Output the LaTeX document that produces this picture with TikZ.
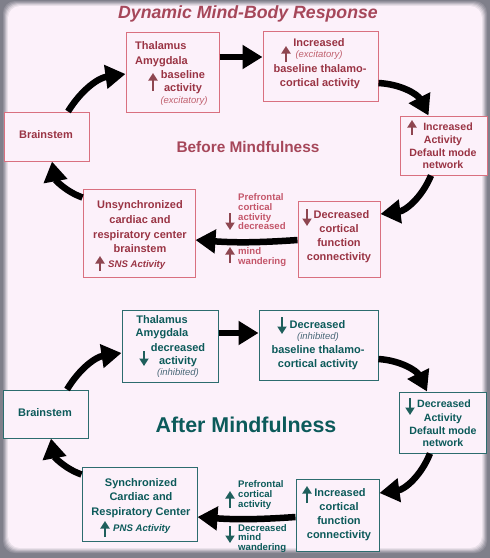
\documentclass[tikz,border=0pt]{standalone}
\usepackage{fontspec}
\setmainfont{Liberation Sans}
\usetikzlibrary{arrows.meta}

\definecolor{frame}{HTML}{7F7F8A}
\definecolor{bgin}{HTML}{FCF1FA}
\definecolor{redtxt}{HTML}{9A3444}
\definecolor{redbox}{HTML}{D9707F}
\definecolor{redlbl}{HTML}{C4566A}
\definecolor{redicon}{HTML}{8E4650}
\definecolor{redital}{HTML}{C0606E}
\definecolor{redtitle}{HTML}{A6475A}
\definecolor{tealtxt}{HTML}{0C5A5A}
\definecolor{tealbox}{HTML}{2C6C6E}
\definecolor{tealicon}{HTML}{1F5F5C}
\definecolor{tealital}{HTML}{4A6878}

\begin{document}
\begin{tikzpicture}[
     x = 1pt, y = -1pt,
     box/.style = {draw = #1, line width = 1pt, fill = bgin, inner sep = 0pt},
     txt/.style = {inner sep = 0pt, align = center, font = \fontsize{11}{14.5}\selectfont\bfseries},
     lbl/.style = {inner sep = 0pt, align = left, font = \fontsize{9.6}{9.7}\selectfont\bfseries},
     ital/.style = {inner sep = 0pt, font = \fontsize{9.5}{11}\selectfont\itshape},
     sital/.style = {inner sep = 0pt, font = \fontsize{9.6}{11}\selectfont\bfseries\itshape},
     flow/.style = {line width = 6.5pt, -{Triangle[length = 20pt, width = 23pt]}},
     icon/.style = {draw = #1, line width = 2.8pt, -{Triangle[length = 7.5pt, width = 9pt]}}
    ]
    \useasboundingbox (0,0) rectangle (490,558);

    % frame with soft edge
    \fill[frame] (0,0) rectangle (490,558);
    \foreach \k/\p in {0/15, 1/30, 2/50, 3/70, 4/85, 5/100}
      \fill[bgin!\p!frame, rounded corners = 12pt] (3+\k,1+\k) rectangle (487-\k,553-\k);

    \node[inner sep = 0pt, redtitle, font = \fontsize{17.7}{20}\selectfont\bfseries\itshape]
      (title) at (248,14) {Dynamic Mind-Body Response};

    % ---- before mindfulness ----
    \node[box = redbox, minimum width = 93pt, minimum height = 80pt] (thal) at (172.5,72) {};
    \node[box = redbox, minimum width = 115pt, minimum height = 70pt] (base) at (320.5,66) {};
    \node[box = redbox, minimum width = 87pt, minimum height = 59pt] (dmn) at (443.5,145.5) {};
    \node[box = redbox, minimum width = 85pt, minimum height = 49pt] (stem) at (46.5,136.5) {};
    \node[box = redbox, minimum width = 112pt, minimum height = 88pt] (unsync) at (139,233) {};
    \node[box = redbox, minimum width = 82pt, minimum height = 76pt] (cort) at (339,239) {};

    \node[txt, redtxt, align = left, anchor = west, font = \fontsize{11}{15}\selectfont\bfseries]
      (thal-t) at (135,54.5) {Thalamus\\Amygdala};
    \node[txt, redtxt, font = \fontsize{11}{13}\selectfont\bfseries] (thal-b) at (183,82.5) {baseline\\activity};
    \node[ital, redital] (thal-e) at (184,101) {(excitatory)};
    \draw[icon = redicon] (153,91) -- (153,73);

    \node[txt, redtxt] (base-i) at (319,43) {Increased};
    \node[ital, redital] (base-e) at (319,55.5) {(excitatory)};
    \node[txt, redtxt, font = \fontsize{11}{14}\selectfont\bfseries] (base-t) at (320,77) {baseline thalamo-\\cortical activity};
    \draw[icon = redicon] (286,62) -- (286,46);

    \node[txt, redtxt, font = \fontsize{10.6}{12.3}\selectfont\bfseries] (dmn-i) at (448,127) {Increased};
    \node[txt, redtxt, font = \fontsize{10.6}{12.3}\selectfont\bfseries] (dmn-t) at (443,152.5) {Activity\\Default mode\\network};
    \draw[icon = redicon] (412,135) -- (412,120);

    \node[txt, redtxt] (stem-t) at (46,135) {Brainstem};

    \node[inner sep = 0pt, redtitle, font = \fontsize{15.4}{18}\selectfont\bfseries] (before) at (248,147) {Before Mindfulness};

    \node[txt, redtxt, font = \fontsize{11}{14.7}\selectfont\bfseries] (unsync-t) at (140,227) {Unsynchronized\\cardiac and\\respiratory center\\brainstem};
    \node[sital, redtxt, anchor = west] (unsync-s) at (108,265) {SNS Activity};
    \draw[icon = redicon] (100,271) -- (100,256);

    \node[txt, redtxt] (cort-d) at (341.5,215) {Decreased};
    \node[txt, redtxt, font = \fontsize{11}{14}\selectfont\bfseries] (cort-t) at (339,244) {cortical\\function\\connectivity};
    \draw[icon = redicon] (307,209) -- (307,226);

    \node[lbl, redlbl, anchor = west] (pfc) at (238,212) {Prefrontal\\cortical\\activity\\decreased};
    \draw[icon = redicon] (230,213) -- (230,230);
    \node[lbl, redlbl, anchor = west] (wander) at (238,257) {mind\\wandering};
    \draw[icon = redicon] (230,263) -- (230,247);

    \draw[flow] ([xshift = 21.5pt]stem.north) to[bend left = 25] ([yshift = -2pt]thal.west);
    \draw[flow] ([yshift = 15pt]thal.east) -- ([yshift = 15pt]thal.east -| base.west);
    \draw[flow] ([yshift = -17pt]base.east) to[bend left = 30] ([xshift = -15pt]dmn.north);
    \draw[flow] ([xshift = -12.5pt]dmn.south) to[bend left = 30] ([yshift = 25pt]cort.east);
    \draw[flow] ([yshift = -1pt]cort.west) to[bend left = 4] ([yshift = -1pt]cort.west -| unsync.east);
    \draw[flow] ([yshift = -9pt]unsync.north west) to[bend left = 30] ([xshift = 5.5pt]stem.south);

    % ---- after mindfulness ----
    \node[box = tealbox, minimum width = 96pt, minimum height = 72pt] (thalb) at (170,346) {};
    \node[box = tealbox, minimum width = 119pt, minimum height = 70pt] (baseb) at (318.5,345) {};
    \node[box = tealbox, minimum width = 87pt, minimum height = 61pt] (dmnb) at (442.5,422.5) {};
    \node[box = tealbox, minimum width = 85pt, minimum height = 48pt] (stemb) at (45.5,414) {};
    \node[box = tealbox, minimum width = 115pt, minimum height = 74pt] (syncb) at (139.5,504) {};
    \node[box = tealbox, minimum width = 83pt, minimum height = 72pt] (cortb) at (337.5,515) {};

    \node[txt, tealtxt, font = \fontsize{11}{13}\selectfont\bfseries] (thalb-t) at (162,327.5) {Thalamus\\Amygdala};
    \node[txt, tealtxt, font = \fontsize{11}{12.5}\selectfont\bfseries] (thalb-d) at (178,355) {decreased\\activity};
    \node[ital, tealital] (thalb-e) at (178,373) {(inhibited)};
    \draw[icon = tealicon] (144,351) -- (144,366);

    \node[txt, tealtxt] (baseb-d) at (317.5,325) {Decreased};
    \node[ital, tealital] (baseb-e) at (318,337.5) {(inhibited)};
    \node[txt, tealtxt, font = \fontsize{11}{14}\selectfont\bfseries] (baseb-t) at (318,358) {baseline thalamo-\\cortical activity};
    \draw[icon = tealicon] (282,317) -- (282,334);

    \node[txt, tealtxt, font = \fontsize{10.6}{12.3}\selectfont\bfseries] (dmnb-d) at (444,404) {Decreased};
    \node[txt, tealtxt, font = \fontsize{10.6}{12.3}\selectfont\bfseries] (dmnb-t) at (443,430.5) {Activity\\Default mode\\network};
    \draw[icon = tealicon] (410,398) -- (410,415);

    \node[txt, tealtxt] (stemb-t) at (45,413) {Brainstem};

    \node[inner sep = 0pt, tealtxt, font = \fontsize{21.4}{24}\selectfont\bfseries] (after) at (246,425) {After Mindfulness};

    \node[txt, tealtxt] (syncb-t) at (141,498) {Synchronized\\Cardiac and\\Respiratory Center};
    \node[sital, tealtxt, anchor = west] (syncb-s) at (113,529) {PNS Activity};
    \draw[icon = tealicon] (105,537) -- (105,521);

    \node[txt, tealtxt] (cortb-i) at (340,493) {Increased};
    \node[txt, tealtxt, font = \fontsize{11}{14}\selectfont\bfseries] (cortb-t) at (339,521.5) {cortical\\function\\connectivity};
    \draw[icon = tealicon] (307,503) -- (307,486);

    \node[lbl, tealtxt, anchor = west] (pfcb) at (238,495) {Prefrontal\\cortical\\activity};
    \draw[icon = tealicon] (230,508) -- (230,491);
    \node[lbl, tealtxt, anchor = west] (wanderb) at (238,538.5) {Decreased\\mind\\wandering};
    \draw[icon = tealicon] (230,526) -- (230,543);

    \draw[flow] ([xshift = 21.5pt]stemb.north) to[bend left = 25] ([yshift = -7pt]thalb.west);
    \draw[flow] ([yshift = 13pt]thalb.east) -- ([yshift = 13pt]thalb.east -| baseb.west);
    \draw[flow] ([yshift = -14pt]baseb.east) to[bend left = 30] ([xshift = -15.5pt]dmnb.north);
    \draw[flow] ([xshift = -12.5pt]dmnb.south) to[bend left = 30] ([yshift = 22pt]cortb.east);
    \draw[flow] ([yshift = -2pt]cortb.west) to[bend left = 4] ([yshift = -2pt]cortb.west -| syncb.east);
    \draw[flow] ([yshift = -8pt]syncb.north west) to[bend left = 30] ([xshift = 5.5pt]stemb.south);

   \end{tikzpicture}
\end{document}
